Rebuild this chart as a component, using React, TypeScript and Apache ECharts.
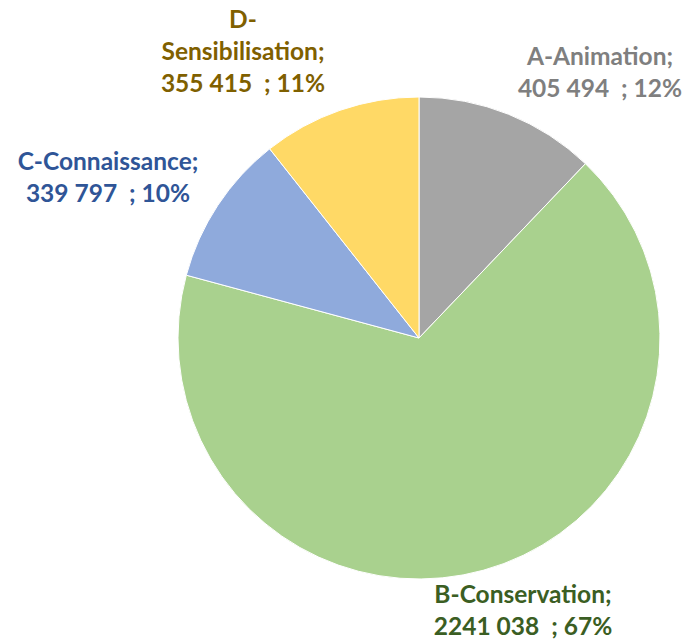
import React, { useEffect, useRef } from "react";
import * as echarts from "echarts";

const categories = ["A-Animation", "B-Conservation", "C-Connaissance", "D-Sensibilisation"];
const values = [405494, 2241038, 339797, 355415];
const sliceColors = ["#A5A5A5", "#A9D18E", "#8FAADC", "#FFD966"];
const labelColors = ["#7F7F7F", "#3B5E23", "#2F5597", "#7F6000"];
const labelPositions = [
  [600, 71],
  [523, 609],
  [108, 176],
  [243, 50],
];

function fmtValue(v: number): string {
  const hi = Math.floor(v / 1000);
  const lo = String(v % 1000).padStart(3, "0");
  return hi + " " + lo;
}

function fmtName(n: string): string {
  if (n.length > 16) {
    const i = n.indexOf("-");
    return n.slice(0, i + 1) + "\n" + n.slice(i + 1);
  }
  return n;
}

export default function App() {
  const ref = useRef<HTMLDivElement>(null);
  useEffect(() => {
    const chart = echarts.init(ref.current!, undefined, { renderer: "svg" });
    chart.setOption({
      animation: false,
      backgroundColor: "#ffffff",
      series: [
        {
          type: "pie",
          center: [419, 338],
          radius: 241,
          startAngle: 90,
          clockwise: true,
          percentPrecision: 0,
          itemStyle: { borderColor: "#ffffff", borderWidth: 1 },
          labelLine: { show: false },
          label: {
            show: true,
            position: "outside",
            alignTo: "none",
            overflow: "none",
            fontFamily: "Lato",
            fontWeight: "bold",
            fontSize: 24.5,
            lineHeight: 32,
            align: "center",
            formatter: (p: any) =>
              fmtName(p.name) + ";\n" + fmtValue(p.value) + "  ; " + Math.round(p.percent) + "%",
          },
          labelLayout: (p: any) => ({
            x: labelPositions[p.dataIndex][0],
            y: labelPositions[p.dataIndex][1],
            align: "center",
            verticalAlign: "middle",
          }),
          emphasis: { disabled: true },
          data: categories.map((c, i) => ({
            name: c,
            value: values[i],
            itemStyle: { color: sliceColors[i] },
            label: { color: labelColors[i] },
          })),
        },
      ],
    });
    return () => chart.dispose();
  }, []);
  return (
    <div
      ref={ref}
      style={{ position: "absolute", left: 0, top: 0, width: 684, height: 639 }}
    />
  );
}
